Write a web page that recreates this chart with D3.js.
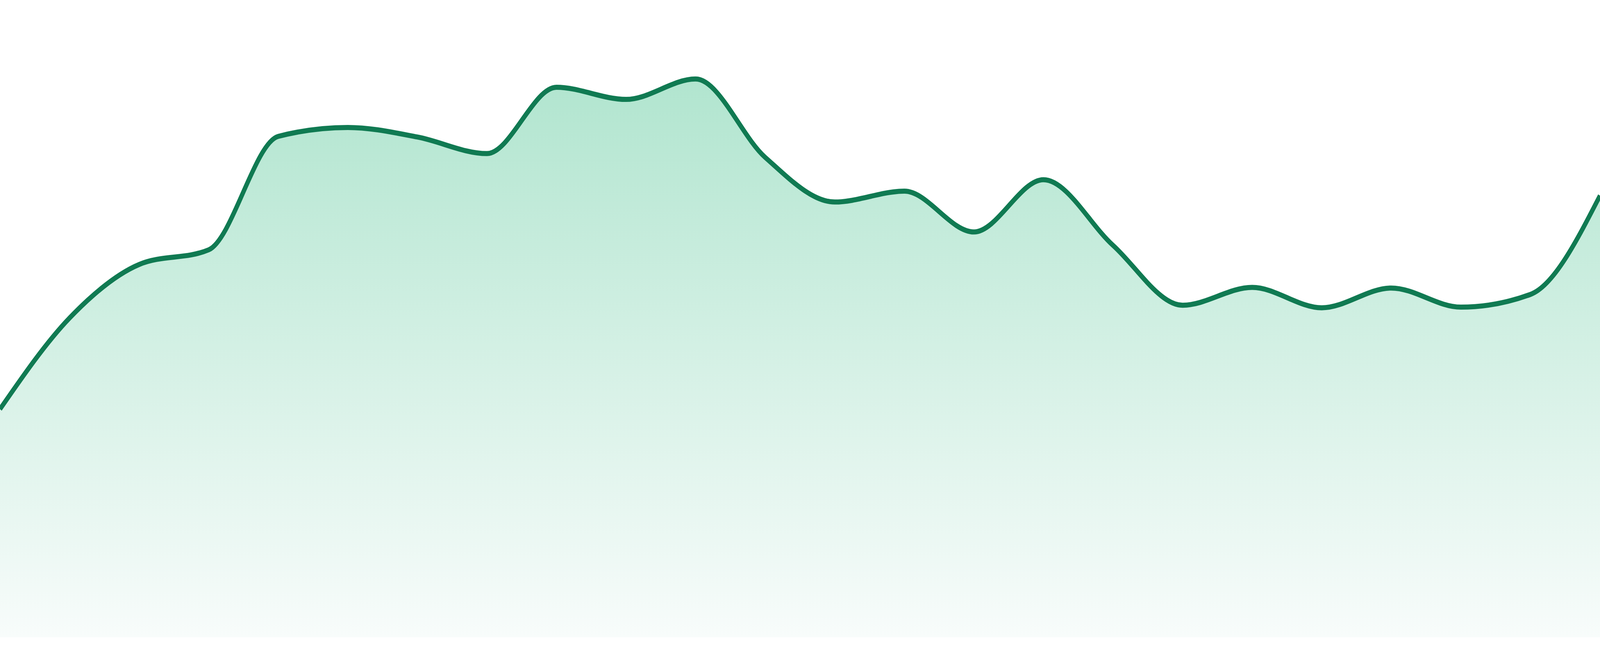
<!DOCTYPE html>
<html>
<head>
<meta charset="utf-8">
<script src="https://cdn.jsdelivr.net/npm/d3@7"></script>
<style>
  html, body { margin: 0; padding: 0; width: 100%; height: 100%; background: #ffffff; overflow: hidden; }
  #chart svg { display: block; width: 100vw; height: 100vh; }
</style>
</head>
<body>
<div id="chart"></div>
<script>
// drawing space (scaled to fill the window through the viewBox)
const width = 4800
const height = 1680
const baseline = 1632

// data
const days = ["01", "02", "03", "04", "05", "06", "07", "08", "09", "10", "11", "12",
              "13", "14", "15", "16", "17", "18", "19", "20", "21", "22", "23", "24"]
const values = [35.8, 50.1, 58.5, 60.8, 78.6, 80.0, 78.5, 75.9, 86.3, 84.4, 87.6, 75.3,
                68.3, 70.0, 63.6, 71.8, 61.5, 52.1, 54.9, 51.7, 54.8, 51.8, 53.8, 69.3]
const yDomain = [0, 100]

const data = days.map((d, i) => ({ day: d, value: values[i] }))

const svg = d3.select("#chart")
  .append("svg")
  .attr("viewBox", `0 0 ${width} ${height}`)
  .attr("preserveAspectRatio", "none")

const x = d3.scalePoint()
  .domain(days)
  .range([0, width])

const y = d3.scaleLinear()
  .domain(yDomain)
  .range([baseline, 0])

// soft green fade under the line
const defs = svg.append("defs")
const grad = defs.append("linearGradient")
  .attr("id", "fade")
  .attr("x1", 0).attr("y1", 0)
  .attr("x2", 0).attr("y2", 1)
grad.append("stop").attr("offset", "0%").attr("stop-color", "rgb(177,229,207)")
grad.append("stop").attr("offset", "100%").attr("stop-color", "rgb(248,252,251)")

const area = d3.area()
  .x(d => x(d.day))
  .y0(baseline)
  .y1(d => y(d.value))
  .curve(d3.curveMonotoneX)

const line = d3.line()
  .x(d => x(d.day))
  .y(d => y(d.value))
  .curve(d3.curveMonotoneX)

svg.append("path")
  .datum(data)
  .attr("d", area)
  .attr("fill", "url(#fade)")

svg.append("path")
  .datum(data)
  .attr("d", line)
  .attr("fill", "none")
  .attr("stroke", "#107a52")
  .attr("stroke-width", 13)
  .attr("stroke-linejoin", "round")
</script>
</body>
</html>
